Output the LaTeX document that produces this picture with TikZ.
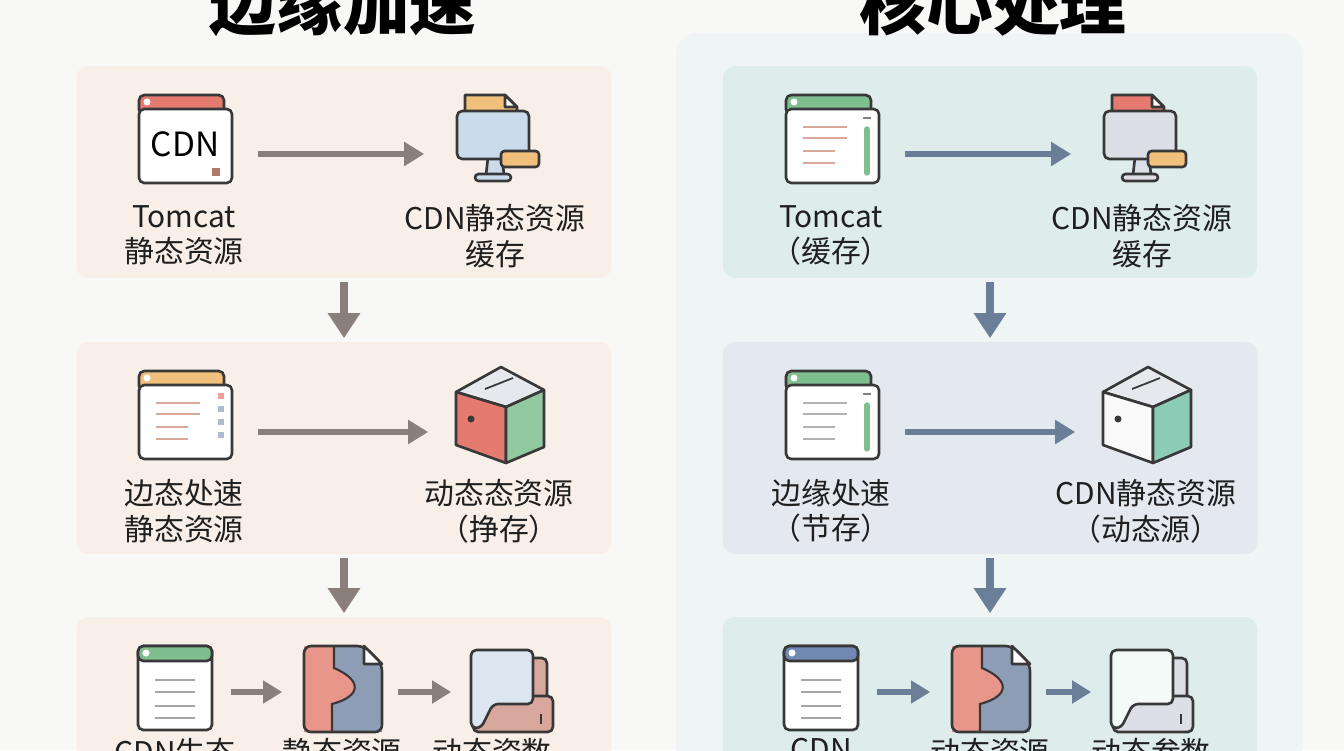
\documentclass[tikz,border=0pt]{standalone}
\usepackage{fontspec}
\setmainfont{Noto Sans CJK SC}
\usepackage{tikz}
\usetikzlibrary{positioning}
\usetikzlibrary{arrows.meta}

\definecolor{paper}{HTML}{F8F8F7}
\definecolor{warmbg}{HTML}{F7EFE8}
\definecolor{coolout}{HTML}{EEF5F4}
\definecolor{coolbg}{HTML}{DEEDEC}
\definecolor{lavbg}{HTML}{E4E8EF}
\definecolor{warmarrow}{HTML}{8A7F7A}
\definecolor{coolarrow}{HTML}{6A7E97}
\definecolor{ink}{HTML}{383838}
\definecolor{salmon}{HTML}{E47A70}
\definecolor{peach}{HTML}{E8968A}
\definecolor{amber}{HTML}{F1C07C}
\definecolor{mint}{HTML}{7FBF8F}
\definecolor{teal}{HTML}{8CCBB5}
\definecolor{slate}{HTML}{8D9DB6}
\definecolor{navy}{HTML}{7088B2}
\definecolor{sky}{HTML}{CADCEC}
\definecolor{mist}{HTML}{DDDEE6}
\definecolor{pale}{HTML}{DCE6F0}
\definecolor{rose}{HTML}{D9A89C}
\definecolor{fog}{HTML}{E6E8EE}
\definecolor{brick}{HTML}{B07A66}

\begin{document}
\begin{tikzpicture}[x=0.02cm,y=-0.02cm,
	ink line/.style={draw=ink,line width=1.5pt,line join=round},
	panel/.style={rounded corners=7pt,minimum width=10.7cm,minimum height=4.24cm,inner sep=0pt},
	icon/.style={minimum width=1.86cm,minimum height=1.76cm,inner sep=0pt},
	small icon/.style={minimum width=1.56cm,minimum height=1.7cm,inner sep=0pt},
	caption/.style={align=center,inner sep=0pt,font=\fontsize{17}{20}\selectfont,text=black!88},
	heading/.style={inner sep=0pt,font=\fontsize{38}{40}\selectfont\bfseries},
	down flow/.style={line width=4.5pt,-{Triangle[width=0.62cm,length=0.5cm]},shorten <=2pt,shorten >=2pt},
	flow/.style={line width=3.2pt,-{Triangle[width=0.46cm,length=0.4cm]},shorten <=0.55cm,shorten >=0.48cm},
	short flow/.style={line width=3.2pt,-{Triangle[width=0.44cm,length=0.38cm]},shorten <=0.33cm,shorten >=0.41cm},
	pics/window/.style={code={
		\path[ink line,fill=#1,rounded corners=3pt] (-45,-44) rectangle (40,-24);
		\path[ink line,fill=white,rounded corners=3pt] (-45,-30) rectangle (48,44);
		\fill[white] (-37,-37) circle (2pt);
	}},
	pics/lines/.style={code={
		\foreach \y/\e in {-12/16,-1/16,12/4,24/4}
			\draw[#1,line width=1.3pt] (-28,\y) -- (\e,\y);
	}},
	pics/sidebar/.style={code={
		\draw[mint,line width=3pt,line cap=round] (36,-10) -- (36,34);
		\draw[gray,line width=1.5pt] (32,-21) -- (40,-21);
	}},
	pics/chips/.style={code={
		\foreach \y/\c in {-22/salmon,-9/slate,4/slate,17/slate}
			\fill[\c!70] (34,\y) rectangle +(6,6);
	}},
	pics/sheet/.style={code={
		\path[ink line,fill=white,rounded corners=3pt] (-37,-42) rectangle (37,42);
		\path[ink line,fill=#1,rounded corners=3pt] (-37,-42) rectangle (37,-27);
		\fill[white] (-29,-35) circle (2pt);
		\foreach \y in {-8,4,18,30}
			\draw[gray!70,line width=1.3pt] (-20,\y) -- (20,\y);
	}},
	pics/monitor/.style 2 args={code={
		\path[ink line,fill=#1] (-30,-26) -- (-30,-44) -- (10,-44) -- (22,-32) -- (22,-26);
		\path[ink line,fill=white] (10,-44) -- (10,-32) -- (22,-32) -- cycle;
		\path[ink line,fill=#2] (-7,18) -- (-9,36) -- (9,36) -- (7,18);
		\path[ink line,fill=#2,rounded corners=2pt] (-20,35) rectangle (16,42);
		\path[ink line,fill=#2,rounded corners=3pt] (-38,-28) rectangle (34,20);
		\path[ink line,fill=amber,rounded corners=2pt] (6,12) rectangle (44,28);
	}},
	pics/cube/.style 2 args={code={
		\path[ink line,fill=fog] (-43,-23) -- (2,-48) -- (45,-25) -- (7,-8) -- cycle;
		\path[ink line,fill=#1] (-43,-23) -- (7,-8) -- (7,48) -- (-43,30) -- cycle;
		\path[ink line,fill=#2] (7,-8) -- (45,-25) -- (45,32) -- (7,48) -- cycle;
		\draw[ink,line width=1pt] (-14,-26) -- (14,-37);
		\fill[ink] (-28,4) circle (2pt);
	}},
	pics/splitdoc/.style={code={
		\begin{scope}
			\clip (-38,-42) -- (22,-42) -- (40,-24) -- (40,44) -- (-38,44) -- cycle;
			\fill[slate] (-40,-45) rectangle (42,46);
			\fill[peach] (-40,-45) -- (-8,-45) -- (-8,-20) .. controls (20,-8) and (20,8) .. (-10,16) -- (-10,46) -- (-40,46) -- cycle;
		\end{scope}
		\draw[ink,line width=1.2pt] (-8,-42) -- (-8,-20) .. controls (20,-8) and (20,8) .. (-10,16) -- (-10,44);
		\path[ink line,rounded corners=4pt] (-38,-42) -- (22,-42) -- (40,-24) -- (40,44) -- (-38,44) -- cycle;
		\path[ink line,fill=white] (22,-42) -- (22,-24) -- (40,-24) -- cycle;
	}},
	pics/pages/.style 2 args={code={
		\path[ink line,fill=#2,rounded corners=3pt] (-14,-30) rectangle (36,30);
		\path[ink line,fill=#2,rounded corners=3pt] (-38,8) rectangle (42,44);
		\path[ink line,fill=#1,rounded corners=3pt] (-40,-38) -- (22,-38) -- (22,16) -- (-18,16) -- (-30,40) -- (-40,40) -- cycle;
		\draw[ink,line width=1.2pt] (30,26) -- (30,36);
	}}]

	\useasboundingbox (0,0) rectangle (1344,750);
	\fill[paper] (0,0) rectangle (1344,750);
	\fill[coolout,rounded corners=12pt] (676,33) rectangle (1302,800);

	% headings
	\node[heading] (lt) at (343,4) {边缘加速};
	\node[heading] (rt) at (993,4) {核心处理};

	% panels
	\node[panel,fill=warmbg] (lp1) at (344,172) {};
	\node[panel,fill=warmbg] (lp2) at (344,448) {};
	\node[panel,fill=warmbg] (lp3) at (344,723) {};
	\node[panel,fill=coolbg] (rp1) at (990,172) {};
	\node[panel,fill=lavbg] (rp2) at (990,448) {};
	\node[panel,fill=coolbg] (rp3) at (990,723) {};

	% left column
	\node[icon] (cdn) at (184,139) {};
	\pic at (cdn) {window=salmon};
	\node[font=\fontsize{19}{20}\selectfont,inner sep=0pt] at (185,144) {CDN};
	\fill[brick] (212,168) rectangle (220,176);
	\node[icon] (lmon) at (495,139) {};
	\pic at (lmon) {monitor={amber}{sky}};
	\node[caption,below=0.44cm of cdn] (cdnl) {Tomcat\\静态资源};
	\node[caption,below=0.42cm of lmon] (lmonl) {CDN静态资源\\缓存};

	\node[icon] (ldoc) at (184,415) {};
	\pic at (ldoc) {window=amber};
	\pic at (ldoc) {lines=rose};
	\pic at (ldoc) {chips};
	\node[icon] (lcube) at (499,415) {};
	\pic at (lcube) {cube={salmon}{mint!85}};
	\node[caption,below=0.4cm of ldoc] (ldocl) {边态处速\\静态资源};
	\node[caption,below=0.4cm of lcube] (lcubel) {动态态资源\\（挣存）};

	\node[small icon] (la) at (175,688) {};
	\pic at (la) {sheet=mint};
	\node[small icon] (lb) at (342,688) {};
	\pic at (lb) {splitdoc};
	\node[small icon] (lc) at (511,688) {};
	\pic at (lc) {pages={pale}{rose}};
	\node[caption,below=0.14cm of la] (lal) {CDN生态};
	\node[caption,below=0.14cm of lb] (lbl) {静态资源};
	\node[caption,below=0.14cm of lc,xshift=-0.38cm] (lcl) {动态资数};

	% right column
	\node[icon] (tom) at (831,139) {};
	\pic at (tom) {window=mint};
	\pic at (tom) {lines=rose};
	\pic at (tom) {sidebar};
	\node[icon] (rmon) at (1142,139) {};
	\pic at (rmon) {monitor={salmon}{mist}};
	\node[caption,below=0.44cm of tom] (toml) {Tomcat\\（缓存）};
	\node[caption,below=0.42cm of rmon] (rmonl) {CDN静态资源\\缓存};

	\node[icon] (rdoc) at (831,415) {};
	\pic at (rdoc) {window=mint};
	\pic at (rdoc) {lines=gray!60};
	\pic at (rdoc) {sidebar};
	\node[icon] (rcube) at (1146,415) {};
	\pic at (rcube) {cube={white!95!gray}{teal}};
	\node[caption,below=0.4cm of rdoc] (rdocl) {边缘处速\\（节存）};
	\node[caption,below=0.4cm of rcube] (rcubel) {CDN静态资源\\（动态源）};

	\node[small icon] (ra) at (821,688) {};
	\pic at (ra) {sheet=navy};
	\node[small icon] (rb) at (990,688) {};
	\pic at (rb) {splitdoc};
	\node[small icon] (rc) at (1151,688) {};
	\pic at (rc) {pages={white!90!teal}{mist}};
	\node[caption,below=0.14cm of ra] (ral) {CDN};
	\node[caption,below=0.14cm of rb] (rbl) {动态资源};
	\node[caption,below=0.14cm of rc] (rcl) {动态参数};

	% connectors
	\draw[flow,warmarrow] ([yshift=-0.3cm]cdn.east) -- ([yshift=-0.3cm]lmon.west);
	\draw[flow,warmarrow] ([yshift=-0.34cm]ldoc.east) -- ([yshift=-0.34cm]lcube.west);
	\draw[short flow,warmarrow] ([yshift=-0.08cm]la.east) -- ([yshift=-0.08cm]lb.west);
	\draw[short flow,warmarrow] ([yshift=-0.08cm]lb.east) -- ([yshift=-0.08cm]lc.west);
	\draw[down flow,warmarrow] (lp1) -- (lp2);
	\draw[down flow,warmarrow] (lp2) -- (lp3);

	\draw[flow,coolarrow] ([yshift=-0.3cm]tom.east) -- ([yshift=-0.3cm]rmon.west);
	\draw[flow,coolarrow] ([yshift=-0.34cm]rdoc.east) -- ([yshift=-0.34cm]rcube.west);
	\draw[short flow,coolarrow] ([yshift=-0.08cm]ra.east) -- ([yshift=-0.08cm]rb.west);
	\draw[short flow,coolarrow] ([yshift=-0.08cm]rb.east) -- ([yshift=-0.08cm]rc.west);
	\draw[down flow,coolarrow] (rp1) -- (rp2);
	\draw[down flow,coolarrow] (rp2) -- (rp3);
\end{tikzpicture}
\end{document}
